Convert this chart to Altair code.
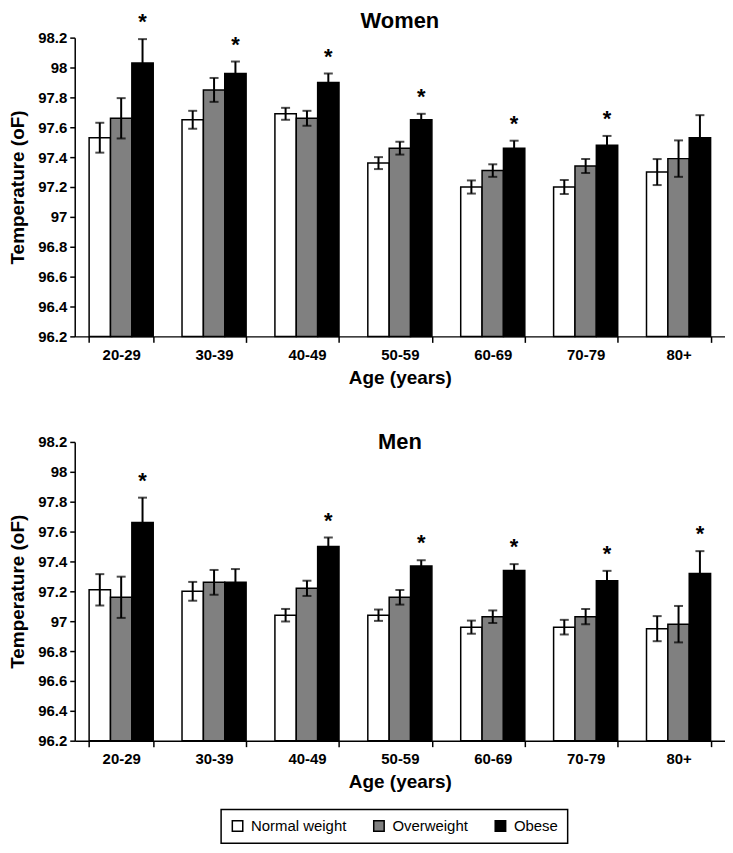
import altair as alt
import pandas as pd

ages = ["20-29", "30-39", "40-49", "50-59", "60-69", "70-79", "80+"]
groups = ["Normal weight", "Overweight", "Obese"]
group_colors = ["#ffffff", "#808080", "#000000"]
y_ticks = [96.2, 96.4, 96.6, 96.8, 97.0, 97.2, 97.4, 97.6, 97.8, 98.0, 98.2]
y_base = 96.2

# Women
women_normal = [97.53, 97.65, 97.69, 97.36, 97.20, 97.20, 97.30]
women_normal_err = [0.10, 0.06, 0.04, 0.04, 0.044, 0.047, 0.087]
women_over = [97.66, 97.85, 97.66, 97.46, 97.31, 97.34, 97.39]
women_over_err = [0.135, 0.08, 0.05, 0.043, 0.042, 0.047, 0.122]
women_obese = [98.03, 97.96, 97.90, 97.65, 97.46, 97.48, 97.53]
women_obese_err = [0.16, 0.08, 0.06, 0.04, 0.05, 0.062, 0.151]
women_sig = [1, 1, 1, 1, 1, 1, 0]

# Men
men_normal = [97.21, 97.20, 97.04, 97.04, 96.96, 96.96, 96.95]
men_normal_err = [0.105, 0.063, 0.042, 0.038, 0.044, 0.049, 0.084]
men_over = [97.16, 97.26, 97.22, 97.16, 97.03, 97.03, 96.98]
men_over_err = [0.138, 0.083, 0.051, 0.049, 0.042, 0.051, 0.122]
men_obese = [97.66, 97.26, 97.50, 97.37, 97.34, 97.27, 97.32]
men_obese_err = [0.167, 0.089, 0.06, 0.038, 0.042, 0.067, 0.149]
men_sig = [1, 0, 1, 1, 1, 1, 1]


def build_df(normal, normal_err, over, over_err, obese, obese_err, sig):
    rows = []
    for i, a in enumerate(ages):
        for g, v, e, s in [
            ("Normal weight", normal[i], normal_err[i], 0),
            ("Overweight", over[i], over_err[i], 0),
            ("Obese", obese[i], obese_err[i], sig[i]),
        ]:
            rows.append({"age": a, "group": g, "value": v,
                         "lo": v - e, "hi": v + e, "sig": s})
    return pd.DataFrame(rows)


women_df = build_df(women_normal, women_normal_err, women_over, women_over_err,
                    women_obese, women_obese_err, women_sig)
men_df = build_df(men_normal, men_normal_err, men_over, men_over_err,
                  men_obese, men_obese_err, men_sig)

PLOT_W = 653
PLOT_H = 300

y_axis = alt.Axis(values=y_ticks, format="~g", labelPadding=3,
                  titlePadding=10, labelOverlap=False)
y_scale = alt.Scale(domain=[96.2, 98.2], nice=False, zero=False)


def yenc(field):
    return alt.Y(field + ":Q", title="Temperature (oF)", scale=y_scale,
                 axis=y_axis)


def panel(df, title, title_offset):
    base = alt.Chart(df)
    x = alt.X("age:N", sort=ages, title="Age (years)",
              scale=alt.Scale(paddingInner=0.31, paddingOuter=0.155),
              axis=alt.Axis(tickBand="extent", labelAngle=0, labelPadding=5,
                            titlePadding=6, ticks=True, tickSize=6))
    xo = alt.XOffset("group:N", sort=groups, scale=alt.Scale(domain=groups))
    bars = base.mark_bar(stroke="black", strokeWidth=1.5).encode(
        x=x, xOffset=xo, y=yenc("value"), y2=alt.datum(y_base),
        color=alt.Color("group:N", sort=groups, title=None,
                        scale=alt.Scale(domain=groups, range=group_colors)),
    )
    rules = base.mark_rule(color="black", strokeWidth=2).encode(
        x=x, xOffset=xo, y=yenc("lo"), y2="hi:Q")
    cap_hi = base.mark_tick(color="black", thickness=2, size=9).encode(
        x=x, xOffset=xo, y=yenc("hi"))
    cap_lo = base.mark_tick(color="black", thickness=2, size=9).encode(
        x=x, xOffset=xo, y=yenc("lo"))
    stars = base.transform_filter("datum.sig == 1").mark_text(
        text="*", fontSize=22, fontWeight="bold", font="Liberation Sans",
        baseline="middle", dy=-17, color="black").encode(
        x=x, xOffset=xo, y=yenc("hi"))
    return alt.layer(bars, rules, cap_hi, cap_lo, stars).properties(
        width=PLOT_W, height=PLOT_H,
        title=alt.TitleParams(title, offset=title_offset, frame="group"),
    )


women = panel(women_df, "Women", -22)
men = panel(men_df, "Men", -19)

chart = alt.vconcat(women, men, spacing=44).properties(
    padding={"left": 0, "top": 0, "right": 0, "bottom": 0}
).configure_view(strokeWidth=0).configure_axis(
    grid=False, domainColor="black", domainWidth=1.5, tickColor="black",
    tickWidth=1.5, tickSize=5, labelColor="black", titleColor="black",
    labelFont="Liberation Sans", titleFont="Liberation Sans",
    labelFontWeight="bold", labelFontSize=15, titleFontSize=19,
    titleFontWeight="bold",
).configure_title(
    font="Liberation Sans", fontSize=22, fontWeight="bold", color="black",
    anchor="middle",
).configure_legend(
    orient="none", legendX=147, legendY=775, direction="horizontal",
    strokeColor="black", strokeWidth=1.5, padding=9,
    columnPadding=24, symbolType="square", symbolSize=110,
    symbolStrokeColor="black", symbolStrokeWidth=1.5, labelFontSize=15,
    labelFont="Liberation Sans", labelColor="black", labelOffset=6,
)

chart.save("out.html", embed_options={"renderer": "svg", "actions": False})
